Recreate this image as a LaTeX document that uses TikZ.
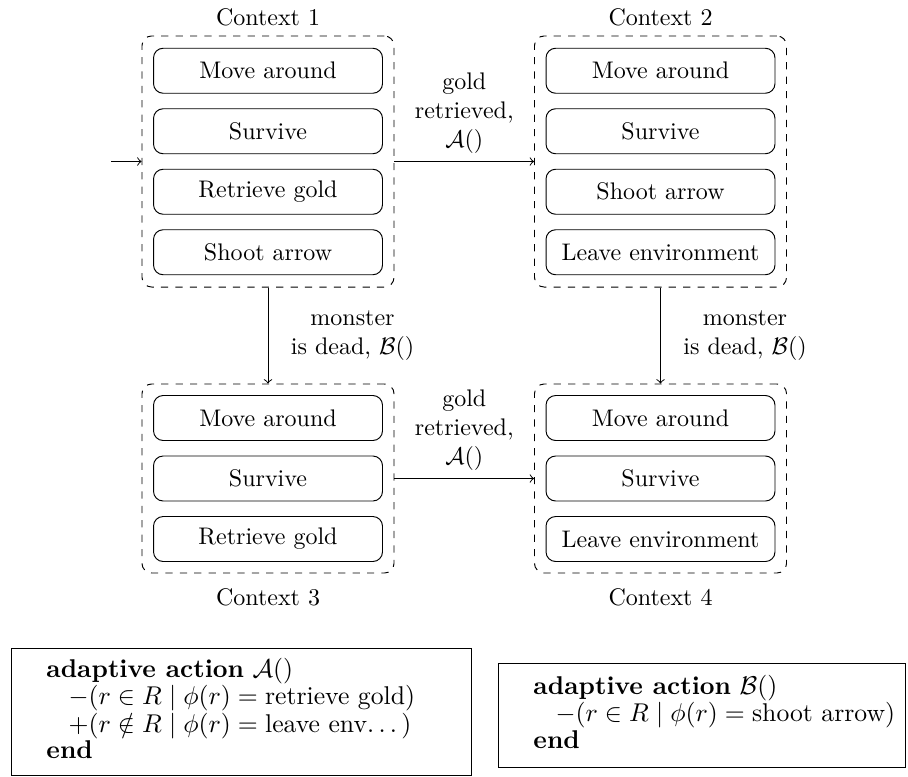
\documentclass[tikz,border=0pt]{standalone}
\usepackage{graphicx}
\newcommand{\spdots}{.\kern1.67pt.\kern1.67pt.\kern1.67pt}
\begin{document}
\begin{tikzpicture}[x=0.41667pt,y=-0.41667pt,
  ctx/.style={draw, dashed, rounded corners=4pt, minimum width=105pt, inner sep=0pt},
  item/.style={draw, rounded corners=4pt, minimum width=95.4pt, minimum height=18.75pt, inner sep=0pt},
  ctxlbl/.style={inner sep=0pt},
  flow/.style={->},
  edgelbl/.style={align=center},
  frame/.style={draw, inner sep=0pt, anchor=north west},
  algtext/.style={inner sep=0pt, anchor=west}]
\useasboundingbox (0,0) rectangle (908,776);

% containers
\node[ctx, minimum height=104.6pt] (c1) at (268,161.5) {};
\node[ctx, minimum height=104.6pt] (c2) at (660.5,161.5) {};
\node[ctx, minimum height=78.75pt] (c3) at (268,478.5) {};
\node[ctx, minimum height=78.75pt] (c4) at (660.5,478.5) {};

% context titles
\node[ctxlbl] (t1) at (268,17) {Context 1};
\node[ctxlbl] (t2) at (660.5,17) {Context 2};
\node[ctxlbl] (t3) at (268,597) {Context 3};
\node[ctxlbl] (t4) at (660.5,597) {Context 4};

% context 1
\node[item] (a1) at (268,70.75) {Move around};
\node[item] (a2) at (268,131.25) {Survive};
\node[item] (a3) at (268,191.75) {Retrieve gold};
\node[item] (a4) at (268,252.25) {Shoot arrow};
% context 2
\node[item] (b1) at (660.5,70.75) {Move around};
\node[item] (b2) at (660.5,131.25) {Survive};
\node[item] (b3) at (660.5,191.75) {Shoot arrow};
\node[item] (b4) at (660.5,252.25) {Leave environment};
% context 3
\node[item] (d1) at (268,418) {Move around};
\node[item] (d2) at (268,478.5) {Survive};
\node[item] (d3) at (268,539) {Retrieve gold};
% context 4
\node[item] (e1) at (660.5,418) {Move around};
\node[item] (e2) at (660.5,478.5) {Survive};
\node[item] (e3) at (660.5,539) {Leave environment};

% connectors
\coordinate (start) at (111,161.5);
\draw[flow] (start) -- (c1.west);
\draw[flow] (c1.east) -- node[midway, above, edgelbl] {gold\\retrieved,\\$\mathcal{A}()$} (c2.west);
\draw[flow] (c3.east) -- node[midway, above, edgelbl] {gold\\retrieved,\\$\mathcal{A}()$} (c4.west);
\draw[flow] (c1.south) -- node[midway, right=6pt, edgelbl] {monster\\is dead, $\mathcal{B}()$} (c3.north);
\draw[flow] (c2.south) -- node[midway, right=6pt, edgelbl] {monster\\is dead, $\mathcal{B}()$} (c4.north);

% adaptive action boxes
\node[frame, minimum width=191.7pt, minimum height=52.9pt] (boxA) at (11,648) {};
\node[algtext] (actA) at (46,712.5) {\scalebox{1.07}{\renewcommand{\arraystretch}{0.86}\begin{tabular}{@{}l@{}}
\textbf{adaptive action} $\mathcal{A}()$\\
\hspace*{8.6pt}$-(r \in R \mid \phi(r) = \mbox{retrieve gold})$\\
\hspace*{8.6pt}$+(r \notin R \mid \phi(r) = \mbox{leave env\spdots})$\\
\textbf{end}
\end{tabular}}};
\node[frame, minimum width=169.6pt, minimum height=43.3pt] (boxB) at (498,663) {};
\node[algtext] (actB) at (533,715.5) {\scalebox{1.07}{\renewcommand{\arraystretch}{0.86}\begin{tabular}{@{}l@{}}
\textbf{adaptive action} $\mathcal{B}()$\\
\hspace*{8.6pt}$-(r \in R \mid \phi(r) = \mbox{shoot arrow})$\\
\textbf{end}
\end{tabular}}};
\end{tikzpicture}
\end{document}
